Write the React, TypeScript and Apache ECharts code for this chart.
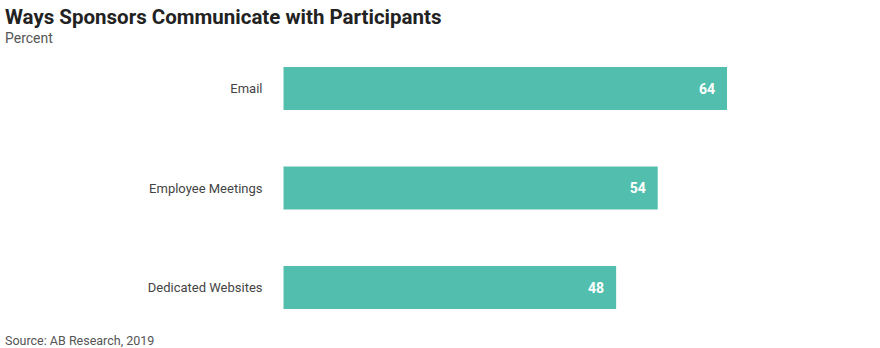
import React, { useEffect, useRef } from "react";
import * as echarts from "echarts";

const categories = ["Email", "Employee Meetings", "Dedicated Websites"];
const values = [64, 54, 48];
const titleText = "Ways Sponsors Communicate with Participants";
const subtitleText = "Percent";
const sourceText = "Source: AB Research, 2019";

export default function App() {
  const ref = useRef<HTMLDivElement>(null);
  useEffect(() => {
    if (!ref.current) return;
    const chart = echarts.init(ref.current, null, { renderer: "svg" });
    chart.setOption({
      animation: false,
      backgroundColor: "#ffffff",
      title: [
        {
          text: titleText,
          left: 5,
          top: 6,
          padding: 0,
          textStyle: { fontFamily: "Roboto", fontWeight: "bold", fontSize: 20.5, color: "#222222" },
        },
        {
          text: subtitleText,
          left: 5,
          top: 31,
          padding: 0,
          textStyle: { fontFamily: "Roboto", fontWeight: "normal", fontSize: 14, color: "#555555" },
        },
        {
          text: sourceText,
          left: 5,
          top: 334,
          padding: 0,
          textStyle: { fontFamily: "Roboto", fontWeight: "normal", fontSize: 12.5, lineHeight: 13, color: "#555555" },
        },
      ],
      grid: { left: 283.5, top: 38.75, width: 554.4, height: 298.5, containLabel: false },
      xAxis: {
        type: "value",
        min: 0,
        max: 80,
        show: false,
      },
      yAxis: {
        type: "category",
        data: categories,
        inverse: true,
        axisLine: { show: false },
        axisTick: { show: false },
        axisLabel: {
          margin: 21,
          fontFamily: "Roboto",
          fontSize: 13,
          color: "#444444",
        },
      },
      series: [
        {
          type: "bar",
          data: values,
          barWidth: 43,
          itemStyle: { color: "#52BFAE" },
          label: {
            show: true,
            position: "insideRight",
            distance: 12,
            color: "#ffffff",
            fontFamily: "Roboto",
            fontWeight: "bold",
            fontSize: 14,
          },
        },
      ],
    });
    return () => chart.dispose();
  }, []);
  return <div ref={ref} style={{ width: 880, height: 348, position: "absolute", left: 0, top: 0 }} />;
}
